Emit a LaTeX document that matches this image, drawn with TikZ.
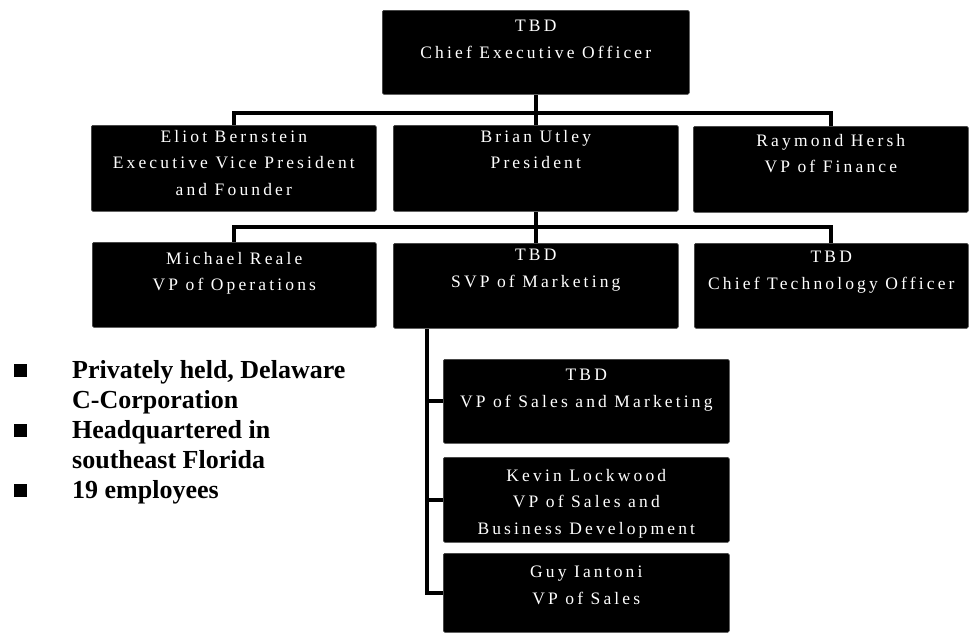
\documentclass[tikz,border=0pt]{standalone}
\usepackage{fontspec}
\setmainfont{Liberation Serif}
\newfontfamily\boxfont[LetterSpace=18]{Liberation Serif}
\usetikzlibrary{backgrounds}
\tikzset{
  orgbox/.style={fill=black, draw=black!75, line width=0.6pt, rounded corners=1.5pt, anchor=north west, inner sep=0pt},
  lbl/.style={text=white, font=\boxfont\fontsize{17.5}{26.5}\selectfont, align=center, anchor=north, inner sep=0pt},
  conn/.style={line width=3.8pt, draw=black},
  sq/.style={fill=black, minimum size=13pt, inner sep=0pt},
  bt/.style={font=\bfseries\fontsize{26}{30}\selectfont, anchor=base west, inner sep=0pt}
}
\begin{document}
\begin{tikzpicture}[x=1pt, y=-1pt]
\useasboundingbox (0,0) rectangle (971,633);
% boxes
\node[orgbox, minimum width=307pt, minimum height=84pt] (ceo) at (382,10) {};
\node[orgbox, minimum width=285pt, minimum height=86pt] (eliot) at (91,125) {};
\node[orgbox, minimum width=285pt, minimum height=86pt] (brian) at (393,125) {};
\node[orgbox, minimum width=275pt, minimum height=86pt] (raymond) at (693,126) {};
\node[orgbox, minimum width=284pt, minimum height=85pt] (michael) at (92,242) {};
\node[orgbox, minimum width=285pt, minimum height=85pt] (svp) at (393,243) {};
\node[orgbox, minimum width=274pt, minimum height=85pt] (cto) at (694,243) {};
\node[orgbox, minimum width=286pt, minimum height=84pt] (s1) at (443,359) {};
\node[orgbox, minimum width=286pt, minimum height=85pt] (s2) at (443,457) {};
\node[orgbox, minimum width=286pt, minimum height=79pt] (s3) at (443,553) {};
% labels
\node[lbl] (ceot) at ([yshift=-10pt]ceo.north) {TBD\\Chief Executive Officer};
\node[lbl] (eliott) at ([yshift=-5pt]eliot.north) {Eliot Bernstein\\Executive Vice President\\and Founder};
\node[lbl] (briant) at ([yshift=-5pt]brian.north) {Brian Utley\\President};
\node[lbl] (raymondt) at ([yshift=-8pt]raymond.north) {Raymond Hersh\\VP of Finance};
\node[lbl] (michaelt) at ([yshift=-10pt]michael.north) {Michael Reale\\VP of Operations};
\node[lbl] (svpt) at ([yshift=-6pt]svp.north) {TBD\\SVP of Marketing};
\node[lbl] (ctot) at ([yshift=-8pt]cto.north) {TBD\\Chief Technology Officer};
\node[lbl] (s1t) at ([yshift=-10pt]s1.north) {TBD\\VP of Sales and Marketing};
\node[lbl] (s2t) at ([yshift=-12pt]s2.north) {Kevin Lockwood\\VP of Sales and\\Business Development};
\node[lbl] (s3t) at ([yshift=-13pt]s3.north) {Guy Iantoni\\VP of Sales};
% connectors
\begin{scope}[on background layer]
\draw[conn] (brian.north) -- (brian.north |- ceo.south);
\draw[conn] (eliot.north) -- ++(0,-12) -| (raymond.north);
\draw[conn] (brian.south) -- (svp.north);
\draw[conn] (michael.north) -- ++(0,-15) -| (cto.north);
\coordinate (trunk) at ([xshift=34pt]svp.south west);
\draw[conn] (trunk) |- (s3.west);
\draw[conn] (s1.west) -- (s1.west -| trunk);
\draw[conn] (s2.west) -- (s2.west -| trunk);
\end{scope}
% bullets
\node[sq] (q1) at (20,370) {};
\node[sq] (q2) at (20,430) {};
\node[sq] (q3) at (20,490) {};
\node[bt] (l1) at (72,378) {Privately held, Delaware};
\node[bt] (l2) at (72,408) {C-Corporation};
\node[bt] (l3) at (72,438) {Headquartered in};
\node[bt] (l4) at (72,468) {southeast Florida};
\node[bt] (l5) at (72,498) {19 employees};
\end{tikzpicture}
\end{document}
